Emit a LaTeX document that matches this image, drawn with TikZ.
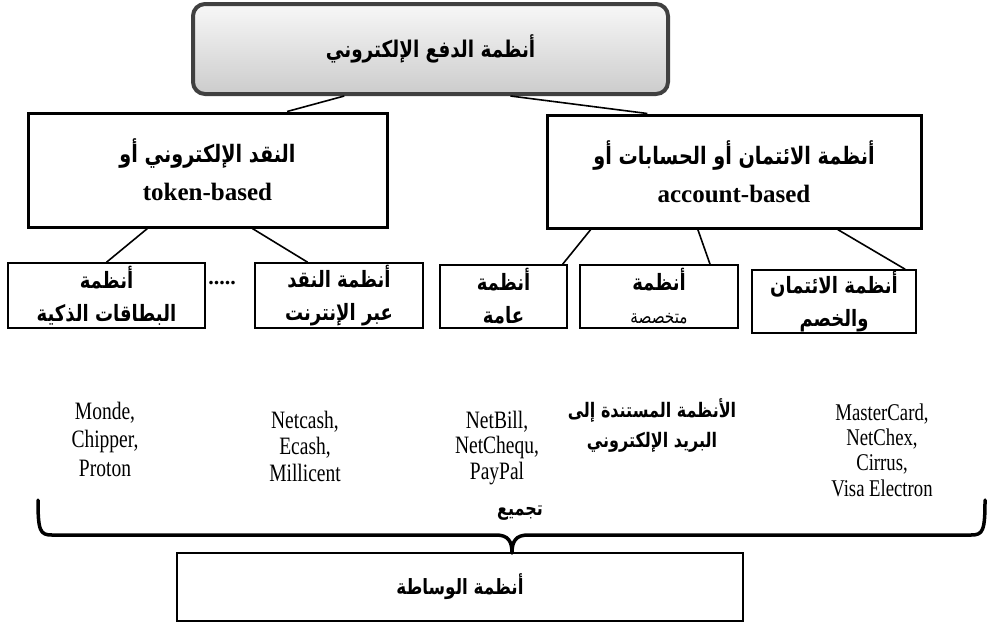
\documentclass[tikz,border=0pt]{standalone}
\usepackage{fontspec}
\setmainfont{Liberation Serif}
\newfontfamily\ar[Script=Arabic,FakeStretch=0.8]{DejaVu Sans}
\newfontfamily\lat[FakeStretch=0.78]{Liberation Serif}
\TeXXeTstate=1
\usetikzlibrary{calc}
\newcommand\AR[1]{\beginR #1\endR}
\tikzset{
  topbox/.style={draw=black!75, line width=4pt, rounded corners=12pt, top color=black!3, bottom color=black!20, inner sep=0pt, align=center},
  midbox/.style={draw=black, line width=3pt, inner sep=0pt, align=center},
  lowbox/.style={draw=black, line width=1.5pt, inner sep=0pt, align=center},
  link/.style={line width=1.6pt},
  txt/.style={inner sep=0pt, align=center},
  brace/.style={line width=3.5pt, line cap=round, line join=round},
  lowfont/.style={font=\ar\bfseries\fontsize{22.5}{33}\selectfont},
}
\begin{document}
\begin{tikzpicture}[x=1pt,y=-1pt]
\useasboundingbox (0,0) rectangle (1003,641);
% top
\node[topbox, minimum width=475pt, minimum height=90pt, font=\ar\bfseries\fontsize{23}{28}\selectfont] (top) at (430.5,49) {\AR{أنظمة الدفع الإلكتروني}};
% mid boxes
\node[midbox, minimum width=359pt, minimum height=114pt, font=\fontsize{20}{38}\selectfont] (tok) at (207.5,170)
  {{\ar\bfseries\fontsize{24}{28}\selectfont\AR{النقد الإلكتروني أو}}\\{\bfseries\fontsize{25}{30}\selectfont token-based}};
\node[midbox, minimum width=374pt, minimum height=113pt, font=\fontsize{20}{38}\selectfont] (acc) at (734,171.5)
  {{\ar\bfseries\fontsize{24}{28}\selectfont\AR{أنظمة الائتمان أو الحسابات أو}}\\{\bfseries\fontsize{25}{30}\selectfont account-based}};
% low boxes
\node[lowbox, lowfont, minimum width=197pt, minimum height=65pt] (bA) at (106.5,295.5)
  {\AR{أنظمة}\\\AR{البطاقات الذكية}};
\node[lowbox, lowfont, minimum width=168pt, minimum height=65pt] (bB) at (339,295.5)
  {\AR{أنظمة النقد}\\\AR{عبر الإنترنت}};
\node[lowbox, lowfont, minimum width=127pt, minimum height=63pt] (bC) at (503.5,296.5)
  {\AR{أنظمة}\\\AR{عامة}};
\node[lowbox, lowfont, minimum width=158pt, minimum height=63pt] (bD) at (659,296.5)
  {\AR{أنظمة}\\{\mdseries\fontsize{19}{20}\selectfont\AR{متخصصة}}};
\node[lowbox, lowfont, minimum width=164pt, minimum height=63pt] (bE) at (834,301.5)
  {\AR{أنظمة الائتمان}\\\AR{والخصم}};
\node[txt, font=\bfseries\fontsize{22}{24}\selectfont] (dots) at (222,283) {.....};
% connectors
\draw[link] ($(top.south west)!0.32!(top.south east)$) -- ($(tok.north west)!0.72!(tok.north east)$);
\draw[link] ($(top.south west)!0.667!(top.south east)$) -- ($(acc.north west)!0.27!(acc.north east)$);
\draw[link] ($(tok.south west)!0.334!(tok.south east)$) -- ($(bA.north west)!0.5!(bA.north east)$);
\draw[link] ($(tok.south west)!0.624!(tok.south east)$) -- ($(bB.north west)!0.315!(bB.north east)$);
\draw[link] ($(acc.south west)!0.12!(acc.south east)$) -- ($(bC.north west)!0.96!(bC.north east)$);
\draw[link] ($(acc.south west)!0.404!(acc.south east)$) -- ($(bD.north west)!0.82!(bD.north east)$);
\draw[link] ($(acc.south west)!0.775!(acc.south east)$) -- ($(bE.north west)!0.93!(bE.north east)$);
% texts below
\node[txt, font=\lat\fontsize{25}{28.5}\selectfont] (tA) at (105,439) {Monde,\\Chipper,\\Proton};
\node[txt, font=\lat\fontsize{25}{26.5}\selectfont] (tB) at (305,446) {Netcash,\\Ecash,\\Millicent};
\node[txt, font=\lat\fontsize{25}{25.5}\selectfont] (tC) at (497,448) {NetBill,\\NetChequ,\\PayPal};
\node[txt, font=\ar\bfseries\fontsize{20}{30}\selectfont] (tD) at (652,425) {\AR{الأنظمة المستندة إلى}\\\AR{البريد الإلكتروني}};
\node[txt, font=\lat\fontsize{24}{25.3}\selectfont] (tE) at (882,450) {MasterCard,\\NetChex,\\Cirrus,\\Visa Electron};
\node[txt, font=\ar\bfseries\fontsize{20}{24}\selectfont] (tj) at (520,513) {\AR{تجميع}};
% bottom box
\node[lowbox, line width=2pt, minimum width=566pt, minimum height=68pt, font=\ar\bfseries\fontsize{21}{24}\selectfont] (was) at (460,587) {\AR{أنظمة الوساطة}};
% brace
\coordinate (bl) at (38,500);
\coordinate (br) at (985,500);
\coordinate (tip) at (512,553);
\draw[brace] (bl) .. controls (38,531) and (40,535) .. (52,535) -- (496,535)
  .. controls (508,535) and (512,541) .. (tip)
  .. controls (512,541) and (516,535) .. (528,535) -- (971,535)
  .. controls (983,535) and (985,531) .. (br);
\end{tikzpicture}
\end{document}
